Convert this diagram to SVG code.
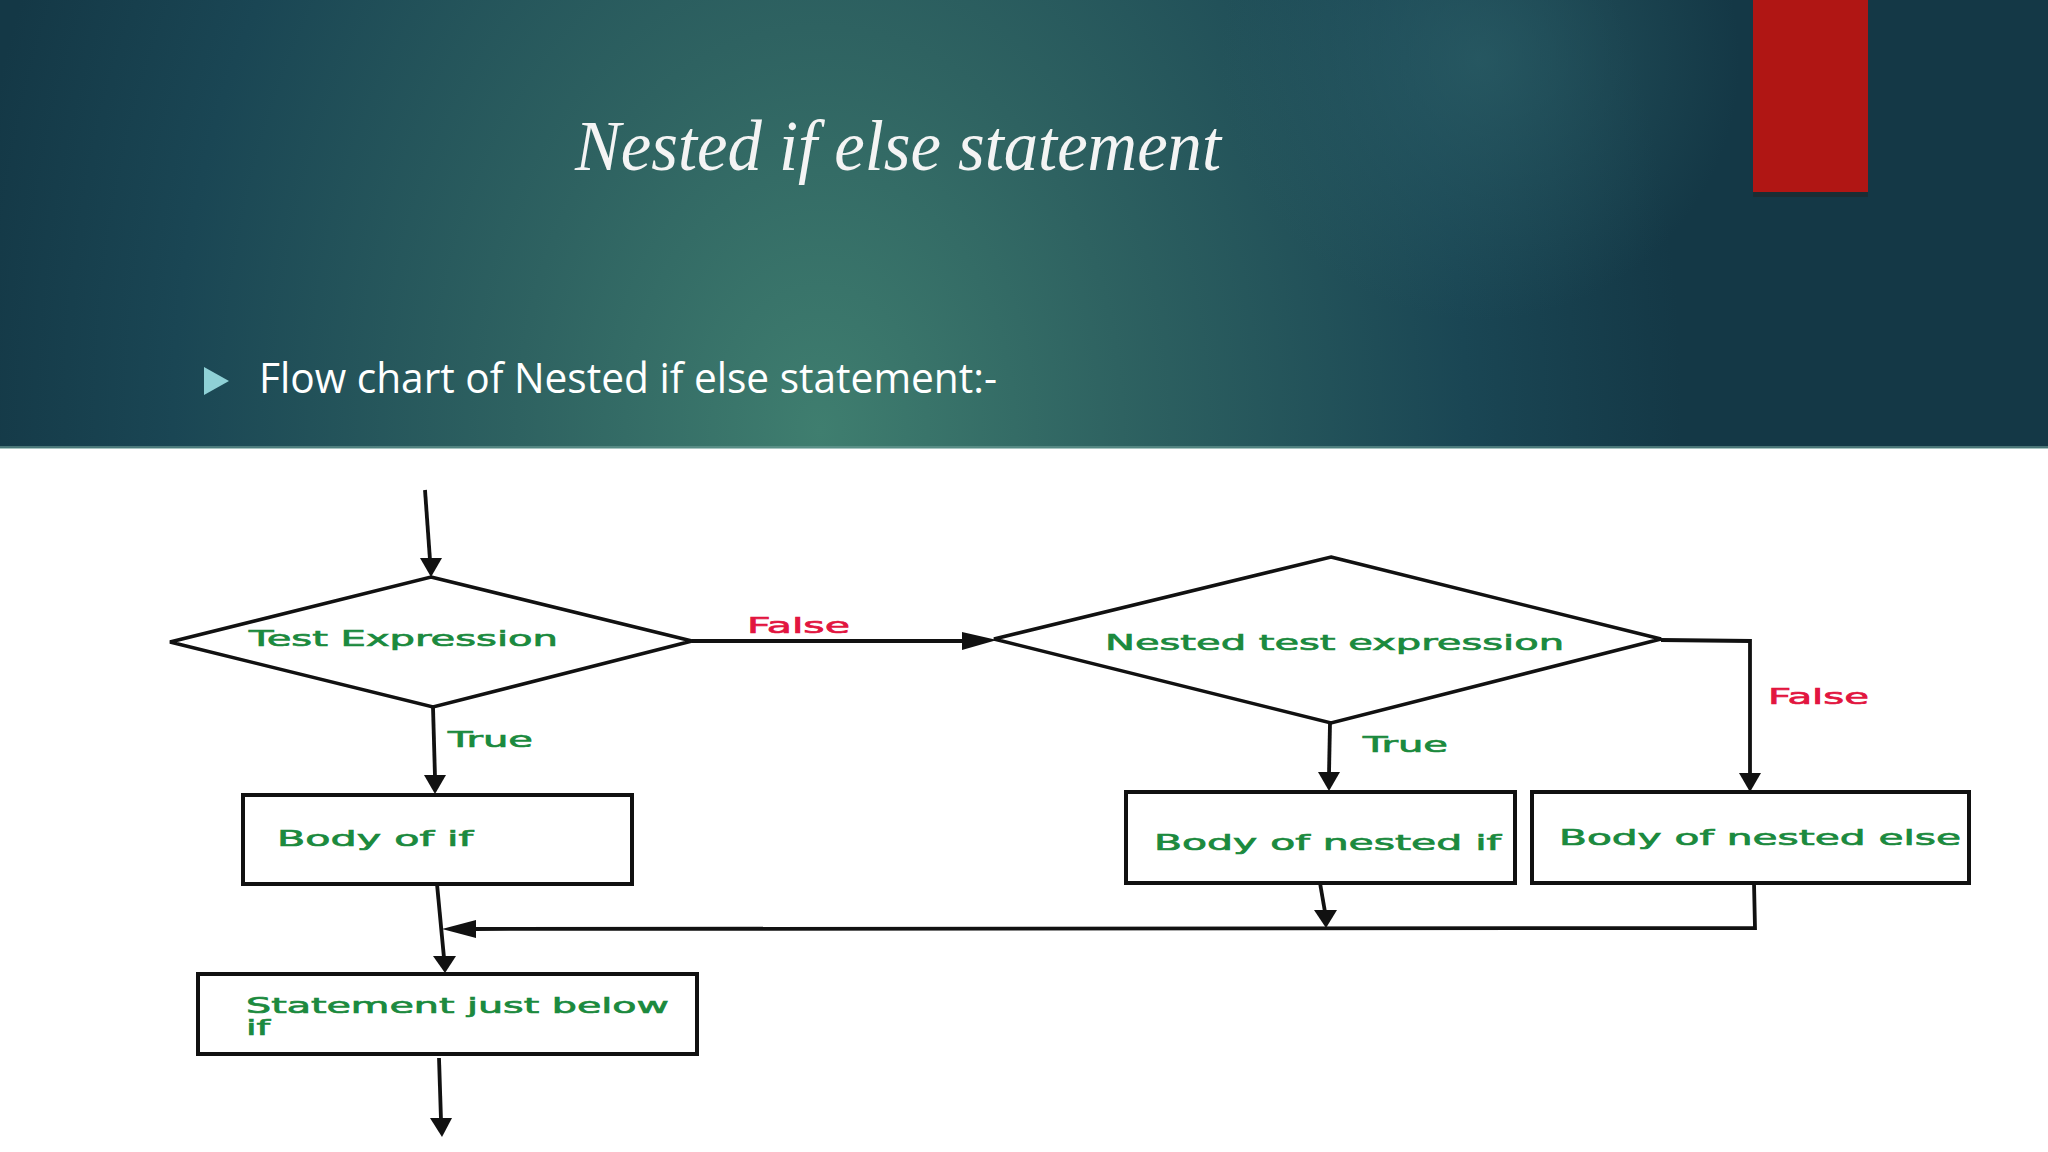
<svg xmlns="http://www.w3.org/2000/svg" width="2048" height="1152" viewBox="0 0 2048 1152">
<defs>
<radialGradient id="bg" cx="820" cy="430" r="1150" gradientUnits="userSpaceOnUse" gradientTransform="translate(820 430) scale(0.75 1) translate(-820 -430)">
<stop offset="0" stop-color="#3f7e6f"/>
<stop offset="0.35" stop-color="#2e6261"/>
<stop offset="0.75" stop-color="#1a4654"/>
<stop offset="1" stop-color="#143846"/>
</radialGradient>
<radialGradient id="glow" cx="1480" cy="60" r="260" gradientUnits="userSpaceOnUse">
<stop offset="0" stop-color="#2c6068" stop-opacity="0.7"/>
<stop offset="1" stop-color="#2c6068" stop-opacity="0"/>
</radialGradient>
</defs>
<style>
.shape{fill:#ffffff;stroke:#111111;stroke-width:3.5}
.box{fill:#ffffff;stroke:#111111;stroke-width:4}
.lbl{font-family:"DejaVu Sans",Verdana,sans-serif;font-size:22px;fill:#1b8a3e;stroke:#1b8a3e;stroke-width:0.7}
.fls{font-family:"DejaVu Sans",Verdana,sans-serif;font-size:22px;fill:#e2153f;stroke:#e2153f;stroke-width:0.7}
.ln{fill:none;stroke:#111111;stroke-width:3.8}
.ah{fill:#111111}
</style>
<rect x="0" y="0" width="2048" height="448" fill="url(#bg)"/>
<rect x="0" y="0" width="2048" height="448" fill="url(#glow)"/>
<rect x="0" y="446" width="2048" height="3" fill="#6e9e98" opacity="0.6"/>
<rect x="0" y="449" width="2048" height="703" fill="#ffffff"/>
<rect x="1753" y="190" width="115" height="7" fill="#1b2a30" opacity="0.8"/>
<rect x="1753" y="0" width="115" height="192" fill="#b01614"/>
<text x="575" y="170" textLength="646" lengthAdjust="spacingAndGlyphs" font-family="'Liberation Serif',serif" font-style="italic" font-size="72" fill="#f4f4f4">Nested if else statement</text>
<polygon points="204,367 229,381 204,395" fill="#8fd1d6"/>
<text x="259" y="393" textLength="738" lengthAdjust="spacingAndGlyphs" font-family="'Open Sans','Noto Sans',sans-serif" font-size="42" fill="#ffffff">Flow chart of Nested if else statement:-</text>

<g id="connectors">
<line class="ln" x1="425" y1="490" x2="430" y2="560"/>
<polygon class="ah" points="420,558 442,558 431,577"/>
<line class="ln" x1="692" y1="641" x2="964" y2="641"/>
<polygon class="ah" points="962,632 997,640 962,650"/>
<line class="ln" x1="433" y1="707" x2="435" y2="777"/>
<polygon class="ah" points="424,775 446,775 435,794"/>
<line class="ln" x1="1330" y1="723" x2="1329" y2="774"/>
<polygon class="ah" points="1318,772 1340,772 1329,791"/>
<polyline class="ln" points="1661,640 1750,641 1750,775"/>
<polygon class="ah" points="1739,773 1761,773 1750,792"/>
<line class="ln" x1="1320" y1="883" x2="1325" y2="912"/>
<polygon class="ah" points="1314,910 1337,910 1326,928"/>
<polyline class="ln" points="1754,883 1755,928 474,929"/>
<polygon class="ah" points="476,920 442,929 476,938"/>
<line class="ln" x1="437" y1="884" x2="444" y2="958"/>
<polygon class="ah" points="433,956 456,956 445,973"/>
<line class="ln" x1="439" y1="1058" x2="441" y2="1120"/>
<polygon class="ah" points="430,1118 452,1118 442,1137"/>
<text class="fls" x="747" y="633" textLength="103" lengthAdjust="spacingAndGlyphs">False</text>
<text class="lbl" x="448" y="747" textLength="85" lengthAdjust="spacingAndGlyphs">True</text>
<text class="lbl" x="1363" y="752" textLength="85" lengthAdjust="spacingAndGlyphs">True</text>
<text class="fls" x="1768" y="704" textLength="101" lengthAdjust="spacingAndGlyphs">False</text>
</g>

<g id="test-expression">
<polygon class="shape" points="431,577 692,641 433,707 170,642"/>
<text class="lbl" x="249" y="646" textLength="309" lengthAdjust="spacingAndGlyphs">Test Expression</text>
</g>
<g id="nested-test-expression">
<polygon class="shape" points="1331,557 1661,639 1331,723 994,639"/>
<text class="lbl" x="1105" y="650" textLength="459" lengthAdjust="spacingAndGlyphs">Nested test expression</text>
</g>
<g id="body-of-if">
<rect class="box" x="243" y="795" width="389" height="89"/>
<text class="lbl" x="277" y="846" textLength="196" lengthAdjust="spacingAndGlyphs">Body of if</text>
</g>
<g id="body-of-nested-if">
<rect class="box" x="1126" y="792" width="389" height="91"/>
<text class="lbl" x="1154" y="850" textLength="347" lengthAdjust="spacingAndGlyphs">Body of nested if</text>
</g>
<g id="body-of-nested-else">
<rect class="box" x="1532" y="792" width="437" height="91"/>
<text class="lbl" x="1559" y="845" textLength="402" lengthAdjust="spacingAndGlyphs">Body of nested else</text>
</g>
<g id="statement-below">
<rect class="box" x="198" y="974" width="499" height="80"/>
<text class="lbl" x="246" y="1013" textLength="423" lengthAdjust="spacingAndGlyphs">Statement just below</text>
<text class="lbl" x="246" y="1035" textLength="24" lengthAdjust="spacingAndGlyphs">if</text>
</g>
</svg>
